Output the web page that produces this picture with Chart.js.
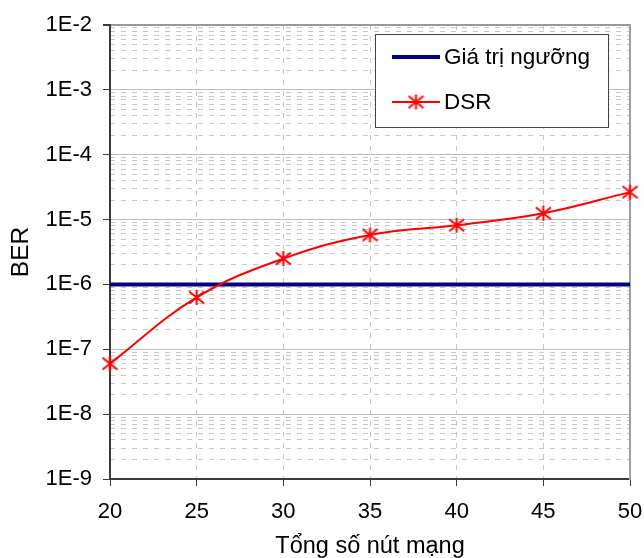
<!DOCTYPE html>
<html>
<head>
<meta charset="utf-8">
<script src="https://cdn.jsdelivr.net/npm/chart.js@4.4.1/dist/chart.umd.min.js"></script>
<style>
  html, body { margin: 0; padding: 0; background: #fff; }
  #wrap { width: 644px; height: 558px; }
</style>
</head>
<body>
<div id="wrap"><canvas id="ber"></canvas></div>
<script>
// BER theo tổng số nút mạng, trục Y logarit

const nodeCounts = [20, 25, 30, 35, 40, 45, 50];
const dsrBer = [6.0e-8, 6.3e-7, 2.5e-6, 5.8e-6, 8.2e-6, 1.25e-5, 2.65e-5];
const thresholdBer = [1e-6, 1e-6, 1e-6, 1e-6, 1e-6, 1e-6, 1e-6];

const decadeTicks = [1e-9, 1e-8, 1e-7, 1e-6, 1e-5, 1e-4, 1e-3, 1e-2];
const decadeLabels = ['1E-9', '1E-8', '1E-7', '1E-6', '1E-5', '1E-4', '1E-3', '1E-2'];
const minorSteps = [2, 3, 4, 5, 6, 7, 8, 9];

const seriesNames = ['Giá trị ngưỡng', 'DSR'];
const xTitle = 'Tổng số nút mạng';
const yTitle = 'BER';

const FONT = "'Liberation Sans', Arial, sans-serif";
const C = {
  threshold: '#000080',
  dsr: '#ff0000',
  axis: '#3a3a3a',
  major: '#bdbdbd',
  minor: '#c8c8c8',
  frame: '#a0a0a0',
};

// minor log grid: 2..9 x each decade
const minorTicks = decadeTicks.slice(0, -1).flatMap(d => minorSteps.map(k => k * d));

// asterisk-style marker (X with a vertical bar)
function starMarker(size, color, lw) {
  const c = document.createElement('canvas');
  c.width = size; c.height = size;
  const g = c.getContext('2d');
  g.strokeStyle = color;
  g.lineWidth = lw;
  g.lineCap = 'butt';
  const m = size / 2, r = size / 2 - 1;
  g.beginPath();
  g.moveTo(m, m - r); g.lineTo(m, m + r);
  g.moveTo(m - r, m - r * 0.8); g.lineTo(m + r, m + r * 0.8);
  g.moveTo(m - r, m + r * 0.8); g.lineTo(m + r, m - r * 0.8);
  g.stroke();
  return c;
}
const star = starMarker(17, C.dsr, 2);

// legend box drawn inside the plot, Excel style
const boxLegend = {
  id: 'boxLegend',
  afterDraw(chart) {
    const { ctx, chartArea } = chart;
    const x = chartArea.right - 255, y = chartArea.top + 9, w = 233, h = 93;
    ctx.save();
    ctx.fillStyle = '#fff';
    ctx.fillRect(x, y, w, h);
    ctx.strokeStyle = '#444';
    ctx.lineWidth = 1;
    ctx.strokeRect(x + 0.5, y + 0.5, w, h);
    ctx.font = `22.5px ${FONT}`;
    ctx.textBaseline = 'middle';
    ctx.fillStyle = '#000';

    const rows = [
      { label: seriesNames[0], color: C.threshold, width: 4, marker: null, dy: 23 },
      { label: seriesNames[1], color: C.dsr, width: 2, marker: star, dy: 68 },
    ];
    rows.forEach(r => {
      const ly = y + r.dy;
      ctx.strokeStyle = r.color;
      ctx.lineWidth = r.width;
      ctx.beginPath();
      ctx.moveTo(x + 17, ly);
      ctx.lineTo(x + 65, ly);
      ctx.stroke();
      if (r.marker) ctx.drawImage(r.marker, x + 41 - r.marker.width / 2, ly - r.marker.height / 2);
      ctx.fillText(r.label, x + 69, ly + 1);
    });
    ctx.restore();
  },
};

new Chart(document.getElementById('ber'), {
  type: 'line',
  data: {
    datasets: [
      {
        label: seriesNames[1],
        data: nodeCounts.map((x, i) => ({ x, y: dsrBer[i] })),
        borderColor: C.dsr,
        borderWidth: 2,
        pointStyle: star,
        pointRadius: 8,
        tension: 0.4,
        clip: false,
        yAxisID: 'y',
        order: 0,
      },
      {
        label: seriesNames[0],
        data: nodeCounts.map((x, i) => ({ x, y: thresholdBer[i] })),
        borderColor: C.threshold,
        borderWidth: 4,
        pointRadius: 0,
        tension: 0,
        yAxisID: 'y',
        order: 1,
      },
    ],
  },
  options: {
    responsive: true,
    maintainAspectRatio: false,
    animation: false,
    layout: { padding: { top: 25, left: 0, right: 0, bottom: 0 } },
    plugins: {
      legend: { display: false },
      tooltip: { enabled: false },
    },
    scales: {
      x: {
        type: 'linear',
        min: 20,
        max: 50,
        afterBuildTicks: s => { s.ticks = nodeCounts.map(v => ({ value: v })); },
        afterFit: s => { s.height = 79; s.paddingLeft = 0; s.paddingRight = 0; },
        grid: { color: C.minor, tickColor: C.axis, tickLength: 7, lineWidth: 1 },
        border: { color: C.axis, width: 2, dash: [5, 6] },
        ticks: {
          color: '#000',
          font: { family: FONT, size: 22 },
          padding: 13,
          autoSkip: false,
          maxRotation: 0,
        },
        title: {
          display: true,
          text: xTitle,
          color: '#000',
          font: { family: FONT, size: 23.5, lineHeight: 1 },
          padding: { top: 0, bottom: 0 },
        },
      },
      y: {
        type: 'logarithmic',
        position: 'left',
        min: 1e-9,
        max: 1e-2,
        afterBuildTicks: s => { s.ticks = decadeTicks.map(v => ({ value: v, major: true })); },
        afterFit: s => { s.width = 110; },
        grid: {
          color: ctx => (ctx.tick && ctx.tick.value === 1e-2 ? '#9a9a9a' : C.major),
          lineWidth: ctx => (ctx.tick && ctx.tick.value === 1e-2 ? 2 : 1),
          tickColor: C.axis,
          tickLength: 7,
        },
        border: { color: C.axis, width: 2 },
        ticks: {
          color: '#000',
          font: { family: FONT, size: 22 },
          padding: 11,
          autoSkip: false,
          callback: v => decadeLabels[decadeTicks.indexOf(v)],
        },
        title: {
          display: true,
          text: yTitle,
          color: '#000',
          font: { family: FONT, size: 24.5, lineHeight: 1 },
          padding: { top: 9, bottom: 0 },
        },
      },
      yMinor: {
        type: 'logarithmic',
        position: 'right',
        min: 1e-9,
        max: 1e-2,
        afterBuildTicks: s => { s.ticks = minorTicks.map(v => ({ value: v })); },
        afterFit: s => { s.width = 14; },
        grid: { color: C.minor, drawTicks: false, lineWidth: 1 },
        border: { display: true, color: C.frame, width: 2, dash: [5, 6] },
        ticks: { display: false },
      },
    },
  },
  plugins: [boxLegend],
});
</script>
</body>
</html>
